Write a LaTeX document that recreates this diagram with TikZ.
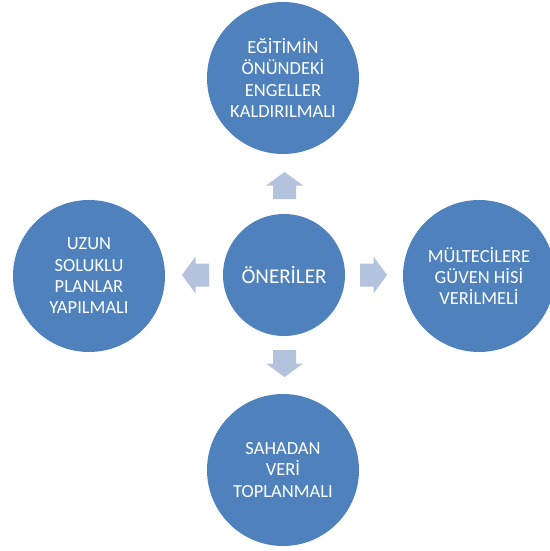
\documentclass[tikz,border=0pt]{standalone}
\usepackage{fontspec}
\setmainfont{Carlito}
\definecolor{circblue}{HTML}{4F81BD}
\definecolor{arrowblue}{HTML}{B3C2DD}
\begin{document}
\begin{tikzpicture}[x=1pt,y=-1pt,
  outer/.style={circle,fill=circblue,minimum size=152pt,inner sep=0pt,align=center,text=white,
    font=\fontsize{18.5pt}{21.3pt}\selectfont},
  centre/.style={circle,fill=circblue,minimum size=122pt,inner sep=0pt,align=center,text=white,
    font=\fontsize{21pt}{24pt}\selectfont},
  blockarrow/.pic={\fill[arrowblue] (0,13.5) -- (18.5,0) -- (11.5,0) -- (11.5,-13.5) -- (-11.5,-13.5) -- (-11.5,0) -- (-18.5,0) -- cycle;}
]
\useasboundingbox (0,0) rectangle (549,551);
\node[centre] (c) at (284,275) {ÖNERİLER};
\node[outer] (t) at (283,78) {EĞİTİMİN\\ÖNÜNDEKİ\\ENGELLER\\KALDIRILMALI};
\node[outer] (b) at (283,470) {SAHADAN\\VERİ\\TOPLANMALI};
\node[outer] (l) at (89,276) {UZUN\\SOLUKLU\\PLANLAR\\YAPILMALI};
\node[outer] (r) at (479,276) {MÜLTECİLERE\\GÜVEN HİSİ\\VERİLMELİ};
\pic[rotate=180] at (284.5,185.5) {blockarrow};
\pic[rotate=0] at (284.5,363.5) {blockarrow};
\pic[rotate=-90] at (195.5,275) {blockarrow};
\pic[rotate=90] at (373.5,275) {blockarrow};
\end{tikzpicture}
\end{document}
